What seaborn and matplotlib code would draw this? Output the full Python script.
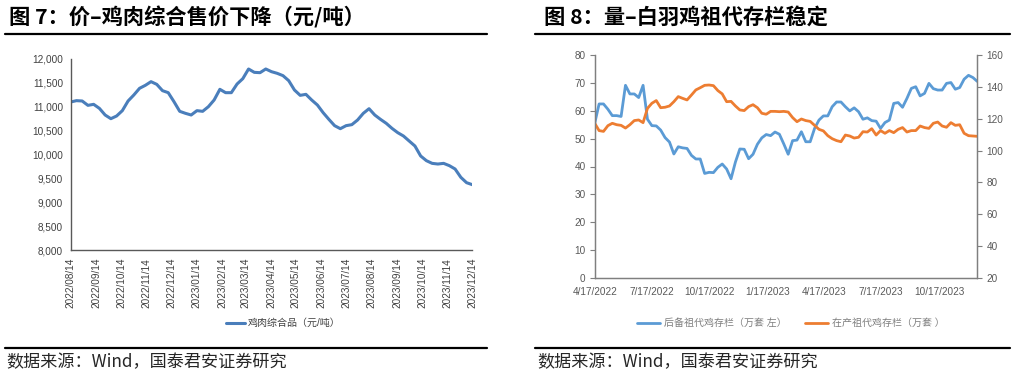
"""
two-panel chicken market chart: composite price (left) and grandparent stock (right)
"""

import numpy as np
import pandas as pd
import matplotlib
matplotlib.use("Agg")
import matplotlib.pyplot as plt
from matplotlib.lines import Line2D
from matplotlib.ticker import FuncFormatter
import seaborn as sns

sns.set_style("white")
plt.rcParams['font.family'] = ['Liberation Sans', 'Noto Sans CJK SC', 'DejaVu Sans']

# ---- data ----
title_left = "图 7：价–鸡肉综合售价下降（元/吨）"
title_right = "图 8：量–白羽鸡祖代存栏稳定"
source_text = "数据来源：Wind，国泰君安证券研究"

price_label = "鸡肉综合品（元/吨）"
price_start = "2022-08-14"
price_end = "2023-12-14"
price = [11101, 11129, 11122, 11031, 11052, 10968, 10829, 10752, 10808, 10920,
         11122, 11247, 11387, 11449, 11526, 11470, 11338, 11296, 11108, 10906,
         10864, 10829, 10920, 10906, 11003, 11143, 11366, 11296, 11296, 11477,
         11589, 11791, 11721, 11714, 11791, 11735, 11700, 11652, 11547, 11352,
         11240, 11261, 11143, 11038, 10878, 10738, 10606, 10543, 10606, 10627,
         10724, 10864, 10961, 10829, 10738, 10655, 10550, 10460, 10390, 10285,
         10181, 9972, 9874, 9818, 9804, 9818, 9770, 9700, 9526, 9414, 9372]

stock_start = "2022-04-17"
reserve_label = "后备祖代鸡存栏（万套 左）"
producing_label = "在产祖代鸡存栏（万套 ）"
reserve = [55.5, 62.5, 62.5, 60.6, 58.3, 58.3, 58.0, 69.2, 66.1, 66.1,
           64.8, 69.2, 57.0, 54.7, 54.6, 53.1, 50.4, 48.8, 44.5, 47.1,
           46.7, 46.5, 44.0, 42.7, 42.7, 37.5, 37.9, 37.8, 39.7, 40.9,
           39.1, 35.6, 41.6, 46.3, 46.2, 42.8, 44.4, 48.0, 50.3, 51.5,
           51.1, 52.4, 51.6, 48.1, 44.4, 49.3, 49.5, 52.5, 48.9, 48.9,
           53.7, 56.7, 58.2, 58.2, 61.5, 63.2, 63.2, 61.5, 60.0, 61.1,
           59.7, 57.0, 57.5, 56.5, 56.3, 53.7, 55.8, 56.7, 62.7, 63.0,
           61.3, 64.5, 68.1, 68.7, 65.4, 66.3, 69.9, 68.0, 67.5, 67.5,
           69.9, 70.2, 67.8, 68.4, 71.4, 72.8, 72.0, 70.6]
producing = [117.2, 112.6, 112.1, 115.7, 117.2, 116.3, 115.9, 114.2, 116.3, 118.9,
             119.3, 117.6, 126.6, 129.8, 131.5, 127.0, 127.3, 128.1, 130.8, 134.0,
             132.9, 131.9, 135.0, 138.2, 139.6, 141.1, 141.3, 140.9, 137.8, 135.7,
             130.8, 131.0, 128.1, 125.6, 125.2, 127.7, 128.9, 127.0, 123.5, 122.9,
             124.7, 124.7, 124.5, 124.7, 124.3, 120.8, 118.2, 119.9, 118.9, 118.4,
             115.9, 113.4, 112.4, 109.4, 107.5, 106.3, 105.6, 109.8, 109.2, 107.9,
             108.4, 111.9, 111.7, 113.8, 109.8, 112.6, 110.9, 112.6, 111.3, 113.4,
             114.5, 111.7, 112.6, 112.6, 115.5, 114.5, 114.0, 117.2, 118.0, 115.5,
             114.7, 117.6, 115.9, 116.3, 110.9, 109.4, 109.2, 109.0]

price_dates = pd.date_range(price_start, price_end, periods=len(price))
stock_dates = pd.date_range(stock_start, periods=len(reserve), freq="7D")

W, H = 1015, 378
fig = plt.figure(figsize=(W / 100, H / 100), dpi=100)

def fx(px):
    return px / W

def fy(py):
    return 1 - py / H

# ---- left panel ----
ax = fig.add_axes([fx(70.7), fy(250.3), fx(472.3 - 70.7), (250.3 - 59) / H])
sns.lineplot(x=price_dates, y=price, ax=ax, color="#4a7ebb", linewidth=2.2, label=price_label)
ax.set_ylim(8000, 12000)
ax.set_yticks(np.arange(8000, 12001, 500))
ax.yaxis.set_major_formatter(FuncFormatter(lambda v, p: f"{int(v):,}"))
ax.set_xlim(pd.Timestamp(price_start), pd.Timestamp(price_end))
left_ticks = pd.date_range(price_start, price_end, freq=pd.DateOffset(months=1))
ax.set_xticks(left_ticks)
ax.set_xticklabels([d.strftime("%Y/%m/%d") for d in left_ticks], rotation=90)
for s in ["top", "right"]:
    ax.spines[s].set_visible(False)
for s in ["left", "bottom"]:
    ax.spines[s].set_color("#595959")
    ax.spines[s].set_linewidth(1.0)
ax.tick_params(axis="both", direction="out", length=3.5, width=0.8, color="#595959",
               labelsize=7.2, labelcolor="#404040", pad=2)
ax.set_xlabel("")
ax.set_ylabel("")
h, l = ax.get_legend_handles_labels()
ax.get_legend().remove()
fig.legend(h, l, loc="center", bbox_to_anchor=(fx(283), fy(323)), frameon=False,
           fontsize=7.2, handlelength=1.9, handletextpad=0.3, labelcolor="#404040")

# ---- right panel ----
ax1 = fig.add_axes([fx(594.7), fy(277.7), fx(977.3 - 594.7), (277.7 - 55.3) / H])
ax2 = ax1.twinx()
sns.lineplot(x=stock_dates, y=reserve, ax=ax1, color="#5b9bd5", linewidth=2.0, label=reserve_label)
sns.lineplot(x=stock_dates, y=producing, ax=ax2, color="#ed7d31", linewidth=2.0, label=producing_label)
ax1.set_ylim(0, 80)
ax1.set_yticks(np.arange(0, 81, 10))
ax2.set_ylim(20, 160)
ax2.set_yticks(np.arange(20, 161, 20))
ax1.set_xlim(stock_dates[0], stock_dates[-1])
right_ticks = pd.date_range(stock_start, stock_dates[-1], freq=pd.DateOffset(months=3))
ax1.set_xticks(right_ticks)
ax1.set_xticklabels([f"{d.month}/{d.day}/{d.year}" for d in right_ticks])
for a in (ax1, ax2):
    a.spines["top"].set_visible(False)
    for s in ["left", "right", "bottom"]:
        a.spines[s].set_color("#7f7f7f")
        a.spines[s].set_linewidth(0.9)
    a.tick_params(axis="both", direction="out", length=3.5, width=0.8, color="#7f7f7f",
                  labelsize=7.2, labelcolor="#595959", pad=3)
    a.set_xlabel("")
    a.set_ylabel("")
h1, l1 = ax1.get_legend_handles_labels()
h2, l2 = ax2.get_legend_handles_labels()
ax1.get_legend().remove()
ax2.get_legend().remove()
fig.legend(h1 + h2, l1 + l2, loc="center", bbox_to_anchor=(fx(791), fy(323)), ncol=2,
           frameon=False, fontsize=7.2, handlelength=2.3, handletextpad=0.4,
           columnspacing=1.8, labelcolor="#7f7f7f")

# ---- titles, rules, sources ----
cjk = ["Noto Sans CJK SC", "DejaVu Sans"]
fig.text(fx(9), fy(17), title_left, fontsize=15.3, fontweight="bold", family=cjk,
         va="center", ha="left", color="black")
fig.text(fx(544), fy(17), title_right, fontsize=15.3, fontweight="bold", family=cjk,
         va="center", ha="left", color="black")
for x0, x1 in [(5, 487), (535, 1010)]:
    fig.add_artist(Line2D([fx(x0), fx(x1)], [fy(33.7)] * 2, color="black", linewidth=1.6))
    fig.add_artist(Line2D([fx(x0), fx(x1)], [fy(347.7)] * 2, color="black", linewidth=1.6))
fig.text(fx(6), fy(362), source_text, fontsize=12.3, family=cjk, va="center", ha="left")
fig.text(fx(537), fy(362), source_text, fontsize=12.3, family=cjk, va="center", ha="left")

plt.savefig("out.png", dpi=100)
